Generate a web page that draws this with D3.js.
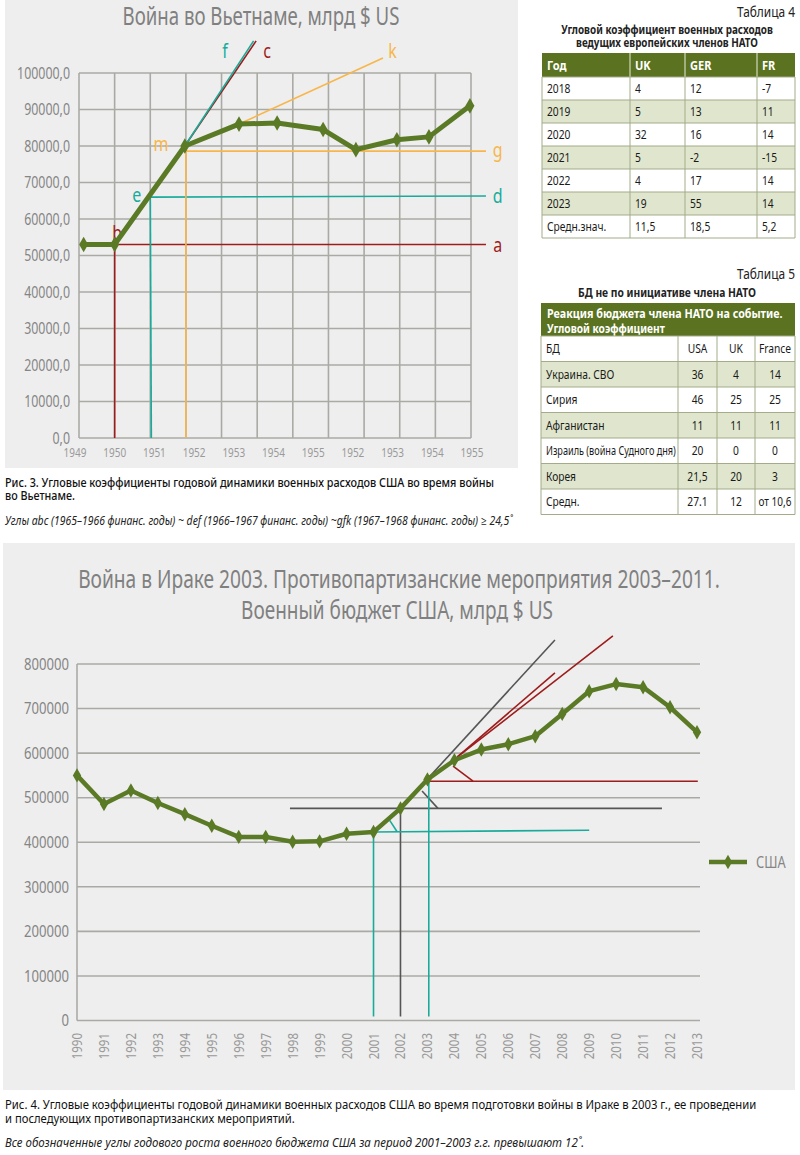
<!DOCTYPE html>
<html>
<head>
<meta charset="utf-8">
<script src="https://cdn.jsdelivr.net/npm/d3@7"></script>
<style>
body { margin: 0; background: #fff; }
svg { display: block; font-family: "Noto Sans", "Open Sans", sans-serif; }
</style>
</head>
<body>
<script>
// ---- chart 1: Vietnam ----
var vnLabels = ['1949', '1950', '1951', '1952', '1953', '1954', '1955', '1952', '1953', '1954', '1955'];
var vnPos = [0.13, 1, 2.97, 4.49, 5.56, 6.85, 7.77, 8.92, 9.82, 10.97];   // position on grid (cells)
var vnVal = [53000, 53000, 80000, 86000, 86300, 84500, 79000, 81700, 82500, 91000];
var vnTicks = [0, 10000, 20000, 30000, 40000, 50000, 60000, 70000, 80000, 90000, 100000];
// guide lines [x1, y1, x2, y2] in grid units / values
var vnRed = [[1, 53000, 11.42, 53000], [1, 53000, 1, 0], [2.97, 80000, 4.97, 108800]];
var vnTeal = [[2, 66000, 11.42, 66300], [2, 66000, 2.03, 0], [2.97, 80000, 4.9, 108800]];
var vnOrange = [[3, 78600, 11.42, 78600], [3, 78600, 3, 0], [4.49, 86000, 8.53, 104100]];
var vnRedTxt = [['a', 11.75, 53000], ['b', 1.07, 56200], ['c', 5.28, 105900]];
var vnTealTxt = [['d', 11.75, 66300], ['e', 1.62, 66500], ['f', 4.1, 105900]];
var vnOrangeTxt = [['g', 11.75, 79000], ['k', 8.8, 105900], ['m', 2.3, 80600]];

// ---- chart 2: Iraq ----
var iqYears = ['1990', '1991', '1992', '1993', '1994', '1995', '1996', '1997', '1998', '1999', '2000', '2001',
  '2002', '2003', '2004', '2005', '2006', '2007', '2008', '2009', '2010', '2011', '2012', '2013'];
var iqUsa = [550000, 486000, 516000, 488000, 463000, 437000, 412000, 412000, 401000, 402000, 419000, 423000,
  476000, 541000, 584000, 608000, 620000, 638000, 688000, 739000, 755000, 748000, 703000, 647000];
var iqTicks = [0, 100000, 200000, 300000, 400000, 500000, 600000, 700000, 800000];
var iqGray = [[2002, 476000, 2007.73, 854000], [1997.9, 476000, 2011.7, 476000], [2002.8, 515000, 2003.39, 476000], [2002, 476000, 2002, 9000]];
var iqRed = [[2004.1, 591000, 2007.73, 780000], [2004.1, 591000, 2009.88, 863000], [2003, 537000, 2013.03, 537000], [2003.95, 571000, 2004.69, 537000]];
var iqTeal = [[2001, 423000, 2009, 427000], [2001.6, 449000, 2001.87, 424000], [2001, 423000, 2001, 9000], [2003.05, 537000, 2003.05, 9000]];

// ---- tables ----
var t4Head = ['Год', 'UK', 'GER', 'FR'];
var t4Year = ['2018', '2019', '2020', '2021', '2022', '2023', 'Средн.знач.'];
var t4UK = ['4', '5', '32', '5', '4', '19', '11,5'];
var t4GER = ['12', '13', '16', '-2', '17', '55', '18,5'];
var t4FR = ['-7', '11', '14', '-15', '14', '14', '5,2'];

var t5Head = ['БД', 'USA', 'UK', 'France'];
var t5Event = ['Украина. СВО', 'Сирия', 'Афганистан', 'Израиль (война Судного дня)', 'Корея', 'Средн.'];
var t5USA = ['36', '46', '11', '20', '21,5', '27.1'];
var t5UK = ['4', '25', '11', '0', '20', '12'];
var t5FR = ['14', '25', '11', '0', '3', 'от 10,6'];

var green = '#5a7a26', red = '#9e1c1c', teal = '#18ab9b', orange = '#f8b64a', dark = '#555';
var grid = '#aaaaa5', lab = '#858585';
var hdr = '#5b7320', light = '#e0e6cd', cellLine = '#a3ab88';
var K = 0.8;   // horizontal squeeze, the source uses a narrow face

var svg = d3.select('body').append('svg').attr('width', 800).attr('height', 1155);

// narrow text at x,y
function ntext(parent, x, y, k) {
  return parent.append('text').attr('transform', 'translate(' + x + ',' + y + ') scale(' + (k || K) + ',1)');
}
// text squeezed to width w (styled first, measured, then scaled)
function wtext(parent, x, y, str, w, attrs) {
  var t = parent.append('text');
  Object.keys(attrs).forEach(function(a) { t.attr(a, attrs[a]); });
  t.text(str);
  var k = Math.min(1, w / t.node().getComputedTextLength());
  return t.attr('transform', 'translate(' + x + ',' + y + ') scale(' + k + ',1)');
}

// ================= chart 1 =================
svg.append('rect').attr('x', 5).attr('y', 0).attr('width', 513).attr('height', 468).attr('fill', '#eeeeee');
wtext(svg, 261, 25, 'Война во Вьетнаме, млрд $ US', 277,
  { 'font-size': 24.5, 'text-anchor': 'middle', fill: '#808080' });

var x1 = d3.scaleLinear().domain([0, 11]).range([79, 471]);
var y1 = d3.scaleLinear().domain([0, 100000]).range([438, 73]);
var xl1 = d3.scalePoint().domain(d3.range(vnLabels.length)).range([75, 472]);

var g1 = svg.append('g');
g1.selectAll('.vg').data(d3.range(12)).enter().append('line')
  .attr('x1', function(d) { return x1(d); }).attr('x2', function(d) { return x1(d); })
  .attr('y1', y1(100000)).attr('y2', y1(0)).attr('stroke', grid).attr('stroke-width', 1.6);
g1.selectAll('.hg').data(vnTicks).enter().append('line')
  .attr('x1', x1(0)).attr('x2', x1(11))
  .attr('y1', function(d) { return y1(d); }).attr('y2', function(d) { return y1(d); })
  .attr('stroke', grid).attr('stroke-width', 1.6);
g1.selectAll('.yl').data(vnTicks).enter().append('text')
  .attr('transform', function(d) { return 'translate(70,' + y1(d) + ') scale(' + K + ',1)'; })
  .attr('dy', '0.36em').attr('text-anchor', 'end').attr('font-size', 15.5).attr('fill', lab)
  .text(function(d) { return d3.format('d')(d) + ',0'; });
g1.selectAll('.xl').data(vnLabels).enter().append('text')
  .attr('transform', function(d, i) { return 'translate(' + xl1(i) + ',457) scale(' + K + ',1)'; })
  .attr('text-anchor', 'middle').attr('font-size', 12.5).attr('fill', '#9a9a9a')
  .text(function(d) { return d; });

function guides(g, data, col, xs, ys) {
  g.selectAll(null).data(data).enter().append('line')
    .attr('x1', function(d) { return xs(d[0]); }).attr('y1', function(d) { return ys(d[1]); })
    .attr('x2', function(d) { return xs(d[2]); }).attr('y2', function(d) { return ys(d[3]); })
    .attr('stroke', col).attr('stroke-width', 1.6);
}
function guideText(g, data, col) {
  g.selectAll(null).data(data).enter().append('text')
    .attr('transform', function(d) { return 'translate(' + x1(d[1]) + ',' + y1(d[2]) + ') scale(' + K + ',1)'; })
    .attr('dy', '0.35em').attr('text-anchor', 'middle').attr('font-size', 20).attr('fill', col)
    .text(function(d) { return d[0]; });
}
guides(g1, vnRed, red, x1, y1);
guides(g1, vnTeal, teal, x1, y1);
guides(g1, vnOrange, orange, x1, y1);
guideText(g1, vnRedTxt, red);
guideText(g1, vnTealTxt, teal);
guideText(g1, vnOrangeTxt, orange);

var line1 = d3.line().x(function(d, i) { return x1(vnPos[i]); }).y(function(d) { return y1(d); });
g1.append('path').datum(vnVal).attr('d', line1).attr('fill', 'none')
  .attr('stroke', green).attr('stroke-width', 5).attr('stroke-linejoin', 'round');
var diamond = d3.symbol().type(d3.symbolDiamond);
g1.selectAll('.pt').data(vnVal).enter().append('path')
  .attr('d', diamond.size(70))
  .attr('transform', function(d, i) { return 'translate(' + x1(vnPos[i]) + ',' + y1(d) + ')'; })
  .attr('fill', green);

var capStyle = { 'font-size': 12, 'font-weight': 500, fill: '#111' };
wtext(svg, 5, 487, 'Рис. 3. Угловые коэффициенты годовой динамики военных расходов США во время войны', 490, capStyle);
wtext(svg, 5, 500, 'во Вьетнаме.', 70, capStyle);
wtext(svg, 5, 525, 'Углы abc (1965–1966 финанс. годы) ~ def (1966–1967 финанс. годы) ~gfk (1967–1968 финанс. годы) ≥ 24,5˚', 508,
  { 'font-size': 12, 'font-style': 'italic', fill: '#222' });

// ================= tables =================
function table(top, cols, rowH, rows, lightIdx, anchorMid) {
  var g = svg.append('g');
  rows.forEach(function(r, i) {
    g.append('rect').attr('x', cols[0]).attr('y', top + i * rowH)
      .attr('width', cols[cols.length - 1] - cols[0]).attr('height', rowH)
      .attr('fill', lightIdx.indexOf(i) >= 0 ? light : '#fff');
  });
  rows.forEach(function(r, i) {
    r.forEach(function(v, j) {
      var mid = anchorMid && j > 0;
      var t = g.append('text').attr('font-size', 12.5).text(v);
      var k = Math.min(0.82, (cols[j + 1] - cols[j] - 7) / t.node().getComputedTextLength());
      t.attr('transform', 'translate(' + (mid ? (cols[j] + cols[j + 1]) / 2 : cols[j] + 5) + ',' +
          (top + i * rowH + rowH / 2) + ') scale(' + k + ',1)')
        .attr('dy', '0.36em').attr('text-anchor', mid ? 'middle' : 'start').attr('fill', '#1a1a1a');
    });
  });
  var bottom = top + rows.length * rowH;
  g.selectAll(null).data(d3.range(rows.length + 1)).enter().append('line')
    .attr('x1', cols[0]).attr('x2', cols[cols.length - 1])
    .attr('y1', function(i) { return top + i * rowH; }).attr('y2', function(i) { return top + i * rowH; })
    .attr('stroke', cellLine).attr('stroke-width', 1);
  g.selectAll(null).data(cols).enter().append('line')
    .attr('x1', function(d) { return d; }).attr('x2', function(d) { return d; })
    .attr('y1', top).attr('y2', bottom).attr('stroke', cellLine).attr('stroke-width', 1);
  return g;
}

var tTitle = { 'font-size': 12, 'font-weight': 'bold', 'text-anchor': 'middle', fill: '#222' };
var tHead = { 'font-size': 12.5, 'font-weight': 'bold', dy: '0.36em', fill: '#fff' };

// table 4
ntext(svg, 795, 17, 0.85).attr('text-anchor', 'end').attr('font-size', 14).attr('fill', '#222').text('Таблица 4');
wtext(svg, 667, 34, 'Угловой коэффициент военных расходов', 212, tTitle);
wtext(svg, 667, 47, 'ведущих европейских членов НАТО', 182, tTitle);

var t4Cols = [542, 630, 685, 757, 795];
svg.append('rect').attr('x', 542).attr('y', 53).attr('width', 253).attr('height', 24).attr('fill', hdr);
t4Head.forEach(function(h, j) {
  ntext(svg, t4Cols[j] + 5, 65, 0.85).attr('dy', '0.36em').attr('font-weight', 'bold')
    .attr('font-size', 13).attr('fill', '#fff').text(h);
  if (j > 0) svg.append('line').attr('x1', t4Cols[j]).attr('x2', t4Cols[j]).attr('y1', 53).attr('y2', 77)
    .attr('stroke', '#e8ecd8').attr('stroke-width', 1);
});
var t4Rows = t4Year.map(function(y, i) { return [y, t4UK[i], t4GER[i], t4FR[i]]; });
table(77, t4Cols, 23, t4Rows, [1, 3, 5], false);

// table 5
ntext(svg, 795, 279, 0.85).attr('text-anchor', 'end').attr('font-size', 14).attr('fill', '#222').text('Таблица 5');
wtext(svg, 667, 297, 'БД не по инициативе члена НАТО', 178, tTitle);
var t5Cols = [541, 678, 717, 755, 795];
svg.append('rect').attr('x', 541).attr('y', 303).attr('width', 254).attr('height', 33).attr('fill', hdr);
wtext(svg, 547, 313, 'Реакция бюджета члена НАТО на событие.', 236, tHead);
wtext(svg, 547, 328, 'Угловой коэффициент', 118, tHead);
var t5Rows = [t5Head].concat(t5Event.map(function(e, i) { return [e, t5USA[i], t5UK[i], t5FR[i]]; }));
table(336, t5Cols, 25.5, t5Rows, [1, 3, 5], true);

// ================= chart 2 =================
svg.append('rect').attr('x', 3).attr('y', 543).attr('width', 792).attr('height', 547).attr('fill', '#eeeeee');
var ttl = { 'font-size': 24.5, 'text-anchor': 'middle', fill: '#808080' };
wtext(svg, 399, 588, 'Война в Ираке 2003. Противопартизанские мероприятия 2003–2011.', 642, ttl);
wtext(svg, 397, 619, 'Военный бюджет США, млрд $ US', 312, ttl);

var x2 = d3.scaleLinear().domain([1990, 2013]).range([77, 697]);
var y2 = d3.scaleLinear().domain([0, 800000]).range([1020.5, 664]);

var g2 = svg.append('g');
g2.selectAll('.hg').data(iqTicks).enter().append('line')
  .attr('x1', 77).attr('x2', 700)
  .attr('y1', function(d) { return y2(d); }).attr('y2', function(d) { return y2(d); })
  .attr('stroke', grid).attr('stroke-width', 1.6);
g2.append('line').attr('x1', 77).attr('x2', 77).attr('y1', y2(800000)).attr('y2', y2(0))
  .attr('stroke', grid).attr('stroke-width', 1.6);
g2.selectAll('.yl').data(iqTicks).enter().append('text')
  .attr('transform', function(d) { return 'translate(69,' + y2(d) + ') scale(0.82,1)'; })
  .attr('dy', '0.36em').attr('text-anchor', 'end').attr('font-size', 16).attr('fill', lab)
  .text(function(d) { return d; });
g2.selectAll('.xl').data(iqYears).enter().append('text')
  .attr('transform', function(d) { return 'translate(' + (x2(+d) + 5) + ',1033) rotate(-90) scale(0.82,1)'; })
  .attr('text-anchor', 'end').attr('font-size', 14).attr('fill', '#999').text(function(d) { return d; });

guides(g2, iqGray, dark, x2, y2);
guides(g2, iqRed, red, x2, y2);
guides(g2, iqTeal, teal, x2, y2);

var line2 = d3.line().x(function(d, i) { return x2(+iqYears[i]); }).y(function(d) { return y2(d); });
g2.append('path').datum(iqUsa).attr('d', line2).attr('fill', 'none')
  .attr('stroke', green).attr('stroke-width', 4.5).attr('stroke-linejoin', 'round');
g2.selectAll('.pt').data(iqUsa).enter().append('path')
  .attr('d', diamond.size(60))
  .attr('transform', function(d, i) { return 'translate(' + x2(+iqYears[i]) + ',' + y2(d) + ')'; })
  .attr('fill', green);

// legend
svg.append('line').attr('x1', 709).attr('x2', 747).attr('y1', 862).attr('y2', 862)
  .attr('stroke', green).attr('stroke-width', 4.5);
svg.append('path').attr('d', diamond.size(60)).attr('transform', 'translate(728,862)').attr('fill', green);
ntext(svg, 756, 862, 0.8).attr('dy', '0.36em').attr('font-size', 16).attr('fill', lab).text('США');

var cap2 = { 'font-size': 12, fill: '#111' };
wtext(svg, 5, 1109, 'Рис. 4. Угловые коэффициенты годовой динамики военных расходов США во время подготовки войны в Ираке в 2003 г., ее проведении', 752, cap2);
wtext(svg, 5, 1123, 'и последующих противопартизанских мероприятий.', 290, cap2);
wtext(svg, 5, 1147, 'Все обозначенные углы годового роста военного бюджета США за период 2001–2003 г.г. превышают 12˚.', 580,
  { 'font-size': 12, 'font-style': 'italic', fill: '#222' });
</script>
</body>
</html>
